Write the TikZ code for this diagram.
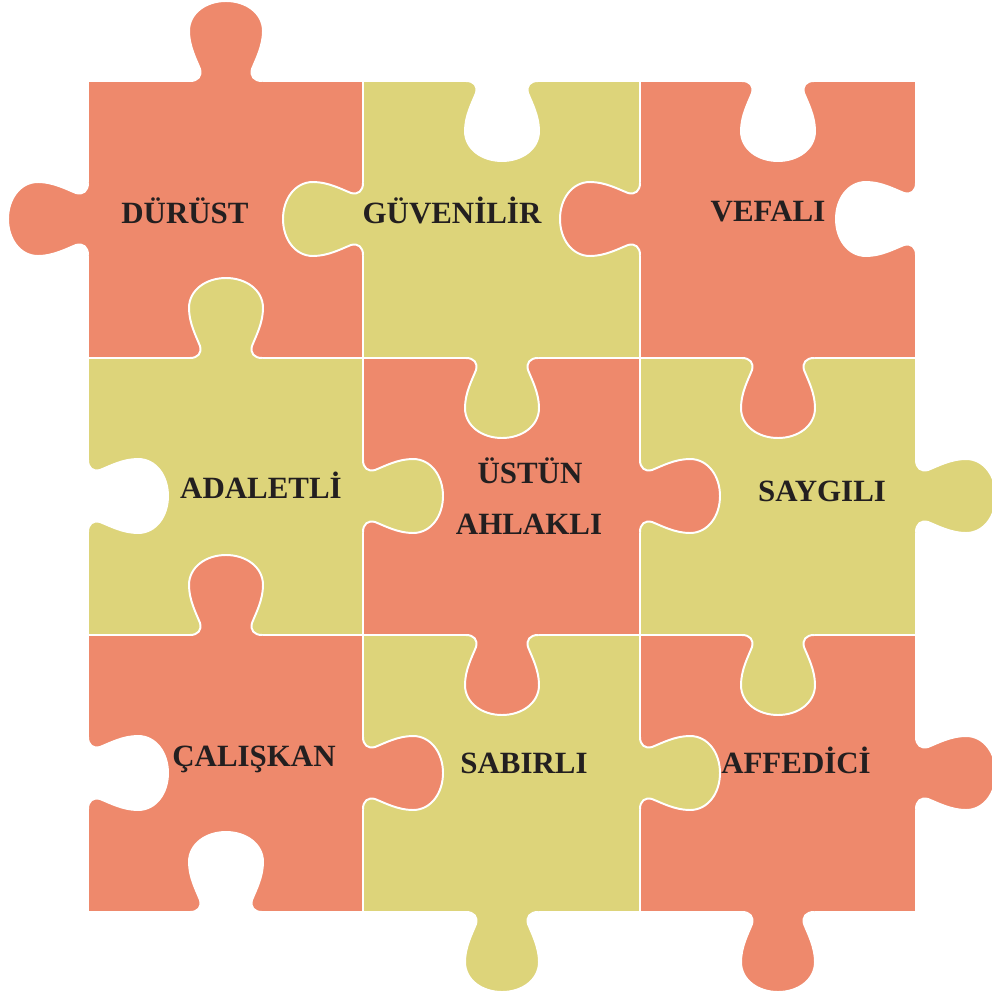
\documentclass[tikz,border=0pt]{standalone}
\usepackage{fontspec}
\setmainfont{Liberation Serif}
\definecolor{salm}{RGB}{238,137,108}
\definecolor{yel}{RGB}{221,212,122}
\definecolor{ink}{RGB}{35,31,32}
\tikzset{
  seam/.style={draw=white, line width=1.4pt},
  cell/.style={draw=white, line width=1.4pt},
  lbl/.style={font=\fontsize{22}{26}\selectfont\bfseries, text=ink, anchor=base, inner sep=0pt},
  pics/knob/.style={code={
    \fill[#1] (-36,-4) -- (-36,0) .. controls (-28,0) and (-24,5) .. (-26,12)
      .. controls (-30,22) and (-37,35) .. (-37,50)
      .. controls (-37,68) and (-20,80) .. (0,80)
      .. controls (20,80) and (37,68) .. (37,50)
      .. controls (37,35) and (30,22) .. (26,12)
      .. controls (24,5) and (28,0) .. (36,0) -- (36,-4) -- cycle;
    \draw[seam] (-36,0) .. controls (-28,0) and (-24,5) .. (-26,12)
      .. controls (-30,22) and (-37,35) .. (-37,50)
      .. controls (-37,68) and (-20,80) .. (0,80)
      .. controls (20,80) and (37,68) .. (37,50)
      .. controls (37,35) and (30,22) .. (26,12)
      .. controls (24,5) and (28,0) .. (36,0);
  }},
}
\begin{document}
\begin{tikzpicture}[x=0.25mm, y=-0.25mm]
\useasboundingbox (0,0) rectangle (991,996);
% cells
\filldraw[cell, fill=salm] (88,81) rectangle (363,358);
\filldraw[cell, fill=yel]  (363,81) rectangle (640,358);
\filldraw[cell, fill=salm] (640,81) rectangle (916,358);
\filldraw[cell, fill=yel]  (88,358) rectangle (363,635);
\filldraw[cell, fill=salm] (363,358) rectangle (640,635);
\filldraw[cell, fill=yel]  (640,358) rectangle (916,635);
\filldraw[cell, fill=salm] (88,635) rectangle (363,912);
\filldraw[cell, fill=yel]  (363,635) rectangle (640,912);
\filldraw[cell, fill=salm] (640,635) rectangle (916,912);
% knobs (rotate: 0 down, 180 up, 90 right, -90 left)
\pic[rotate=180] (k1) at (226,81) {knob=salm};
\pic[rotate=-90] (k2) at (88,219) {knob=salm};
\pic[rotate=-90] (k3) at (363,219) {knob=yel};
\pic[rotate=0] (k4) at (502,81) {knob=white};
\pic[rotate=-90] (k5) at (640,219) {knob=salm};
\pic[rotate=0] (k6) at (778,81) {knob=white};
\pic[rotate=-90] (k7) at (916,219) {knob=white};
\pic[rotate=0] (k8) at (502,358) {knob=yel};
\pic[rotate=0] (k9) at (778,358) {knob=salm};
\pic[rotate=180] (k10) at (226,358) {knob=yel};
\pic[rotate=90] (k11) at (88,496) {knob=white};
\pic[rotate=90] (k12) at (363,496) {knob=yel};
\pic[rotate=90] (k13) at (640,496) {knob=salm};
\pic[rotate=90] (k14) at (916,496) {knob=yel};
\pic[rotate=180] (k15) at (226,635) {knob=salm};
\pic[rotate=0] (k16) at (502,635) {knob=salm};
\pic[rotate=0] (k17) at (778,635) {knob=yel};
\pic[rotate=90] (k18) at (88,773) {knob=white};
\pic[rotate=90] (k19) at (363,773) {knob=salm};
\pic[rotate=90] (k20) at (640,773) {knob=yel};
\pic[rotate=90] (k21) at (916,773) {knob=salm};
\pic[rotate=180] (k22) at (226,912) {knob=white};
\pic[rotate=0] (k23) at (502,912) {knob=yel};
\pic[rotate=0] (k24) at (778,912) {knob=salm};
% labels
\node[lbl] (t1) at (185,223) {DÜRÜST};
\node[lbl] (t2) at (452,223) {GÜVENİLİR};
\node[lbl] (t3) at (768,221) {VEFALI};
\node[lbl] (t4) at (261,498) {ADALETLİ};
\node[lbl] (t5) at (530,483) {ÜSTÜN};
\node[lbl] (t6) at (529,534) {AHLAKLI};
\node[lbl] (t7) at (822,501) {SAYGILI};
\node[lbl] (t8) at (254,766) {ÇALIŞKAN};
\node[lbl] (t9) at (524,773) {SABIRLI};
\node[lbl] (t10) at (796,773) {AFFEDİCİ};
\end{tikzpicture}
\end{document}
